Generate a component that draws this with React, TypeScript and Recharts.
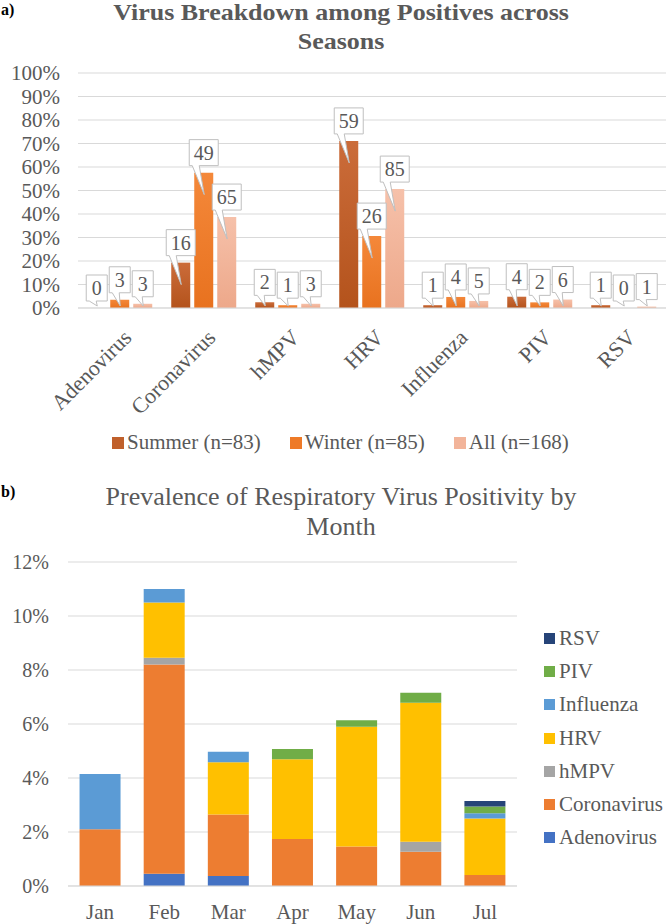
import { Bar, BarChart, CartesianGrid, LabelList, Legend, XAxis, YAxis } from "recharts";

const SERIF = "'Liberation Serif', 'Times New Roman', serif";
const GRAY = "#595959";
const GRID = "#D9D9D9";

// a) share of positives by virus and season (percent) + counts shown in callouts
const viruses = ["Adenovirus", "Coronavirus", "hMPV", "HRV", "Influenza", "PIV", "RSV"];
const summerPct = [0, 19.3, 2.4, 71.1, 1.2, 4.8, 1.2];
const winterPct = [3.5, 57.6, 1.2, 30.6, 4.7, 2.4, 0];
const allPct = [1.8, 38.7, 1.8, 50.6, 3.0, 3.6, 0.6];
const summerCount = [0, 16, 2, 59, 1, 4, 1];
const winterCount = [3, 49, 1, 26, 4, 2, 0];
const allCount = [3, 65, 3, 85, 5, 6, 1];
const pctTicks = [0, 10, 20, 30, 40, 50, 60, 70, 80, 90, 100];
const seasonNames = ["Summer (n=83)", "Winter (n=85)", "All (n=168)"];
const seasonSwatch = ["#C0602B", "#EE7A28", "#F2B49A"];

// b) monthly prevalence, stacked (percent)
const months = ["Jan", "Feb", "Mar", "Apr", "May", "Jun", "Jul"];
const adenovirus = [0, 0.45, 0.37, 0, 0, 0, 0];
const coronavirus = [2.1, 7.75, 2.28, 1.74, 1.46, 1.27, 0.41];
const hmpv = [0, 0.25, 0, 0, 0, 0.37, 0];
const hrv = [0, 2.05, 1.93, 2.95, 4.44, 5.15, 2.09];
const influenza = [2.05, 0.5, 0.39, 0, 0, 0, 0.19];
const piv = [0, 0, 0, 0.38, 0.24, 0.37, 0.25];
const rsv = [0, 0, 0, 0, 0, 0, 0.21];
const monthTicks = [0, 2, 4, 6, 8, 10, 12];
const stackKeys = ["Adenovirus", "Coronavirus", "hMPV", "HRV", "Influenza", "PIV", "RSV"];
const stackColors = ["#4472C4", "#ED7D31", "#A5A5A5", "#FFC000", "#5B9BD5", "#70AD47", "#264478"];

const seasonData = viruses.map((v, i) => ({
  virus: v,
  summer: summerPct[i],
  winter: winterPct[i],
  all: allPct[i],
  summerN: summerCount[i],
  winterN: winterCount[i],
  allN: allCount[i],
}));

const monthData = months.map((m, i) => ({
  month: m,
  Adenovirus: adenovirus[i],
  Coronavirus: coronavirus[i],
  hMPV: hmpv[i],
  HRV: hrv[i],
  Influenza: influenza[i],
  PIV: piv[i],
  RSV: rsv[i],
}));

const BAR_GAP = 4;

function CalloutBox({ x, y, width, value, axisY }: any) {
  const txt = String(value);
  const w = txt.length > 1 ? 29 : 21;
  const h = 26;
  const cx = x + width / 2;
  const left = cx - w / 2;
  const bottom = y - 7;
  const top = bottom - h;
  const tipX = x + 10;
  const tipY = Math.min(y + 22, axisY - 2);
  const b1 = left + 3;
  const b2 = left + 10;
  const d = `M${left},${top}H${left + w}V${bottom}H${b2}L${tipX},${tipY}L${b1},${bottom}H${left}Z`;
  return (
    <g>
      <path d={d} fill="#fff" stroke="#BFBFBF" strokeWidth={1} />
      <text x={cx} y={bottom - 6} textAnchor="middle" fontSize={20} fill={GRAY} fontFamily={SERIF}>
        {txt}
      </text>
    </g>
  );
}

// callout for one bar; zero-height bars get no label from the library, so the
// "All" series also draws the callouts of its empty neighbours at the baseline
function Callout(props: any) {
  const { x, y, width, height, value, index, series } = props;
  if (x == null || y == null) return null;
  const axisY = y + height;
  const extra: any[] = [];
  if (series === "all") {
    const pcts = [summerPct, winterPct];
    const counts = [summerCount, winterCount];
    pcts.forEach((p, s) => {
      if (p[index] === 0) {
        const bx = x - (2 - s) * (width + BAR_GAP);
        extra.push(<CalloutBox key={s} x={bx} y={axisY} width={width} value={counts[s][index]} axisY={axisY} />);
      }
    });
  }
  if (height <= 0) return <g>{extra}</g>;
  return (
    <g>
      {extra}
      <CalloutBox x={x} y={y} width={width} value={value} axisY={axisY} />
    </g>
  );
}

function AngledTick({ x, y, payload }: any) {
  const ax = x + 2;
  const ay = y + 12;
  return (
    <text
      x={ax}
      y={ay}
      transform={`rotate(-45, ${ax}, ${ay})`}
      textAnchor="end"
      dy="0.7em"
      fontSize={22}
      fill={GRAY}
      fontFamily={SERIF}
    >
      {payload.value}
    </text>
  );
}

function SeasonLegend() {
  return (
    <div style={{ display: "flex", alignItems: "center", gap: 29, fontFamily: SERIF, fontSize: 21, color: GRAY, whiteSpace: "nowrap" }}>
      {seasonNames.map((n, i) => (
        <div key={n} style={{ display: "flex", alignItems: "center" }}>
          <span style={{ width: 12, height: 12, background: seasonSwatch[i], marginRight: 3, display: "inline-block" }} />
          <span>{n}</span>
        </div>
      ))}
    </div>
  );
}

function MonthLegend() {
  const order = [...stackKeys].reverse();
  return (
    <div style={{ fontFamily: SERIF, fontSize: 21, color: GRAY, whiteSpace: "nowrap" }}>
      {order.map((k) => (
        <div key={k} style={{ display: "flex", alignItems: "center", height: 33.2 }}>
          <span style={{ width: 11, height: 11, background: stackColors[stackKeys.indexOf(k)], marginRight: 4, display: "inline-block" }} />
          <span>{k}</span>
        </div>
      ))}
    </div>
  );
}

export default function App() {
  return (
    <div style={{ position: "absolute", left: 0, top: 0, width: 666, height: 924, background: "#fff", overflow: "hidden" }}>
      <div style={{ position: "absolute", left: 0, top: 0 }}>
        <BarChart width={666} height={470} data={seasonData} margin={{ top: 73, right: 0, bottom: 0, left: 0 }} barCategoryGap="11%" barGap={BAR_GAP}>
          <defs>
            <linearGradient id="gSummer" x1="0" y1="0" x2="0" y2="1">
              <stop offset="0%" stopColor="#CB6C3A" />
              <stop offset="100%" stopColor="#B4531C" />
            </linearGradient>
            <linearGradient id="gWinter" x1="0" y1="0" x2="0" y2="1">
              <stop offset="0%" stopColor="#F4883A" />
              <stop offset="100%" stopColor="#E8721F" />
            </linearGradient>
            <linearGradient id="gAll" x1="0" y1="0" x2="0" y2="1">
              <stop offset="0%" stopColor="#F6C1AA" />
              <stop offset="100%" stopColor="#EDA88A" />
            </linearGradient>
          </defs>
          <CartesianGrid vertical={false} stroke={GRID} />
          <XAxis dataKey="virus" height={162} interval={0} tickLine={false} axisLine={{ stroke: GRID }} tick={<AngledTick />} />
          <YAxis
            width={78}
            domain={[0, 100]}
            ticks={pctTicks}
            interval={0}
            tickFormatter={(v) => `${v}%`}
            axisLine={false}
            tickLine={false}
            tickMargin={12}
            tick={{ fontSize: 21, fill: GRAY, fontFamily: SERIF }}
          />
          <Legend layout="vertical" align="center" verticalAlign="middle" wrapperStyle={{ left: 112, top: 430, width: 500 }} content={() => <SeasonLegend />} />
          <Bar dataKey="summer" name={seasonNames[0]} fill="url(#gSummer)" isAnimationActive={false}>
            <LabelList dataKey="summerN" content={<Callout series="summer" />} />
          </Bar>
          <Bar dataKey="winter" name={seasonNames[1]} fill="url(#gWinter)" isAnimationActive={false}>
            <LabelList dataKey="winterN" content={<Callout series="winter" />} />
          </Bar>
          <Bar dataKey="all" name={seasonNames[2]} fill="url(#gAll)" isAnimationActive={false}>
            <LabelList dataKey="allN" content={<Callout series="all" />} />
          </Bar>
        </BarChart>
      </div>

      <div style={{ position: "absolute", left: 0, top: 540 }}>
        <BarChart width={666} height={384} data={monthData} margin={{ top: 22, right: 149, bottom: 0, left: 0 }} barCategoryGap="18%">
          <CartesianGrid vertical={false} stroke={GRID} />
          <XAxis
            dataKey="month"
            height={38}
            interval={0}
            tickLine={false}
            axisLine={{ stroke: GRID }}
            tickMargin={12}
            tick={{ fontSize: 21, fill: GRAY, fontFamily: SERIF }}
          />
          <YAxis
            width={68}
            domain={[0, 12]}
            ticks={monthTicks}
            interval={0}
            tickFormatter={(v) => `${v}%`}
            axisLine={false}
            tickLine={false}
            tickMargin={13}
            tick={{ fontSize: 20, fill: GRAY, fontFamily: SERIF }}
          />
          <Legend layout="vertical" align="center" verticalAlign="middle" wrapperStyle={{ left: 544, top: 82, width: 122 }} content={() => <MonthLegend />} />
          {stackKeys.map((k, i) => (
            <Bar key={k} dataKey={k} stackId="m" fill={stackColors[i]} isAnimationActive={false} />
          ))}
        </BarChart>
      </div>

      <svg width={666} height={924} style={{ position: "absolute", left: 0, top: 0, pointerEvents: "none" }}>
        <text x={1} y={15} fontSize={16} fontWeight="bold" fontFamily={SERIF} fill="#000">a)</text>
        <g transform="translate(341,20) scale(1,0.86)">
          <text x={0} y={0} textAnchor="middle" fontSize={26} fontWeight="bold" fontFamily={SERIF} fill={GRAY}>
            Virus Breakdown among Positives across
          </text>
        </g>
        <g transform="translate(341,49) scale(1,0.86)">
          <text x={0} y={0} textAnchor="middle" fontSize={26} fontWeight="bold" fontFamily={SERIF} fill={GRAY}>
            Seasons
          </text>
        </g>
        <text x={1} y={497} fontSize={16} fontWeight="bold" fontFamily={SERIF} fill="#000">b)</text>
        <text x={341} y={505} textAnchor="middle" fontSize={26} fontFamily={SERIF} fill={GRAY}>
          Prevalence of Respiratory Virus Positivity by
        </text>
        <text x={341} y={535} textAnchor="middle" fontSize={26} fontFamily={SERIF} fill={GRAY}>
          Month
        </text>
      </svg>
    </div>
  );
}
